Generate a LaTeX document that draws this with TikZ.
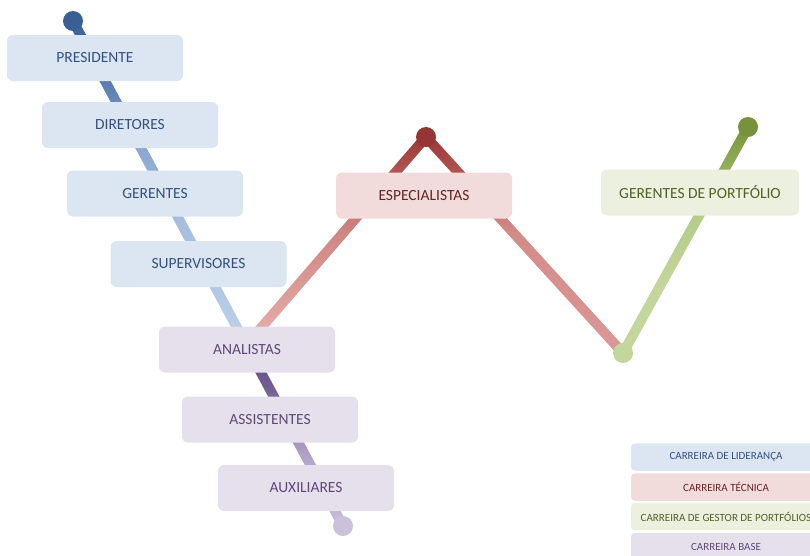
\documentclass[tikz,border=0pt]{standalone}
\usepackage{fontspec}
\setmainfont{Carlito}
\usetikzlibrary{calc}

% box fills and text colours
\definecolor{leadFill}{HTML}{DCE6F2}
\definecolor{leadText}{HTML}{34507F}
\definecolor{techFill}{HTML}{F2DCDB}
\definecolor{techText}{HTML}{632523}
\definecolor{portFill}{HTML}{EBF1DE}
\definecolor{portText}{HTML}{4F6228}
\definecolor{baseFill}{HTML}{E6E0EC}
\definecolor{baseText}{HTML}{5F497A}

% dot colours
\definecolor{leadDot}{HTML}{3A5F94}
\definecolor{techDot}{HTML}{963634}
\definecolor{portDotTop}{HTML}{76923C}
\definecolor{portDotLow}{HTML}{C3D69B}
\definecolor{baseDot}{HTML}{CBC1DA}

% vertical gradients of the career lines (25bp = lower end, 75bp = upper end)
\pgfdeclareverticalshading{leadShade}{100bp}{%
  color(0bp)=(rgb,255:red,188;green,208;blue,232); color(25bp)=(rgb,255:red,188;green,208;blue,232);
  color(44bp)=(rgb,255:red,167;green,191;blue,223); color(55bp)=(rgb,255:red,140;green,169;blue,210);
  color(65bp)=(rgb,255:red,91;green,126;blue,178); color(75bp)=(rgb,255:red,58;green,95;blue,148);
  color(100bp)=(rgb,255:red,58;green,95;blue,148)}
\pgfdeclareverticalshading{baseShade}{100bp}{%
  color(0bp)=(rgb,255:red,200;green,189;blue,217); color(25bp)=(rgb,255:red,200;green,189;blue,217);
  color(44bp)=(rgb,255:red,178;green,165;blue,202); color(64bp)=(rgb,255:red,111;green,92;blue,144);
  color(75bp)=(rgb,255:red,94;green,74;blue,126); color(100bp)=(rgb,255:red,94;green,74;blue,126)}
\pgfdeclareverticalshading{techShadeL}{100bp}{%
  color(0bp)=(rgb,255:red,230;green,177;blue,173); color(25bp)=(rgb,255:red,230;green,177;blue,173);
  color(30bp)=(rgb,255:red,227;green,170;blue,166); color(52bp)=(rgb,255:red,208;green,134;blue,130);
  color(66bp)=(rgb,255:red,179;green,85;blue,82); color(75bp)=(rgb,255:red,150;green,54;blue,52);
  color(100bp)=(rgb,255:red,150;green,54;blue,52)}
\pgfdeclareverticalshading{techShadeR}{100bp}{%
  color(0bp)=(rgb,255:red,218;green,152;blue,150); color(25bp)=(rgb,255:red,218;green,152;blue,150);
  color(53bp)=(rgb,255:red,212;green,139;blue,136); color(67bp)=(rgb,255:red,176;green,81;blue,78);
  color(75bp)=(rgb,255:red,150;green,54;blue,52); color(100bp)=(rgb,255:red,150;green,54;blue,52)}
\pgfdeclareverticalshading{portShade}{100bp}{%
  color(0bp)=(rgb,255:red,195;green,214;blue,155); color(40bp)=(rgb,255:red,195;green,214;blue,155);
  color(55bp)=(rgb,255:red,181;green,204;blue,138); color(70bp)=(rgb,255:red,134;green,162;blue,74);
  color(75bp)=(rgb,255:red,118;green,146;blue,60); color(100bp)=(rgb,255:red,118;green,146;blue,60)}

% a straight 10pt wide band from #2 to #3, filled with shading #1
\newcommand\careerband[3]{%
  \shade[shading=#1]
    ($(#2)!5pt!90:(#3)$) -- ($(#3)!5pt!-90:(#2)$) --
    ($(#3)!5pt!90:(#2)$) -- ($(#2)!5pt!-90:(#3)$) -- cycle;}

\begin{document}
\begin{tikzpicture}[x=1pt,y=-1pt,
  stage/.style={rounded corners=6pt, minimum width=176pt, minimum height=46pt,
    inner sep=0pt, font=\fontsize{15.5}{18}\selectfont},
  leadbox/.style={stage, fill=leadFill, text=leadText},
  techbox/.style={stage, fill=techFill, text=techText},
  portbox/.style={stage, fill=portFill, text=portText},
  basebox/.style={stage, fill=baseFill, text=baseText},
  key/.style={rounded corners=4pt, minimum width=190pt, minimum height=27.5pt,
    inner sep=0pt, font=\fontsize{11}{13}\selectfont},
  dot/.style={circle, inner sep=0pt, minimum size=20pt}]
\useasboundingbox (0,0) rectangle (810,555);

% path points of the careers
\coordinate (leadTop) at (73,21);
\coordinate (baseEnd) at (343,526);
\coordinate (junction) at ($(leadTop)!0.6416!(baseEnd)$);
\coordinate (techPeak) at (426,137);
\coordinate (portLow) at (623,353);
\coordinate (portTop) at (748,127);

% career lines
\careerband{leadShade}{leadTop}{junction}
\careerband{baseShade}{junction}{baseEnd}
\careerband{techShadeL}{junction}{techPeak}
\careerband{techShadeR}{techPeak}{portLow}
\careerband{portShade}{portLow}{portTop}

% end dots
\node[dot, fill=leadDot] (leadDotN) at (leadTop) {};
\node[dot, fill=baseDot] (baseDotN) at (baseEnd) {};
\node[dot, fill=techDot] (techDotN) at (techPeak) {};
\node[dot, fill=portDotLow] (portLowN) at (portLow) {};
\node[dot, fill=portDotTop] (portTopN) at (portTop) {};

% stages
\node[leadbox] (presidente) at (95,58) {PRESIDENTE};
\node[leadbox] (diretores) at (130,125) {DIRETORES};
\node[leadbox] (gerentes) at (155,193.5) {GERENTES};
\node[leadbox] (supervisores) at (198.5,264) {SUPERVISORES};
\node[basebox] (analistas) at (247,349.5) {ANALISTAS};
\node[basebox] (assistentes) at (270,419.5) {ASSISTENTES};
\node[basebox] (auxiliares) at (306,488) {AUXILIARES};
\node[techbox] (especialistas) at (424,195.5) {ESPECIALISTAS};
\node[portbox, minimum width=198pt] (portfolio) at (700,192.5) {GERENTES DE PORTFÓLIO};

% legend
\node[key, fill=leadFill, text=leadText] (keyLead) at (726,457) {CARREIRA DE LIDERANÇA};
\node[key, fill=techFill, text=techText] (keyTech) at (726,487) {CARREIRA TÉCNICA};
\node[key, fill=portFill, text=portText] (keyPort) at (726,516.5) {CARREIRA DE GESTOR DE PORTFÓLIOS};
\node[key, fill=baseFill, text=baseText] (keyBase) at (726,546.5) {CARREIRA BASE};
\end{tikzpicture}
\end{document}
